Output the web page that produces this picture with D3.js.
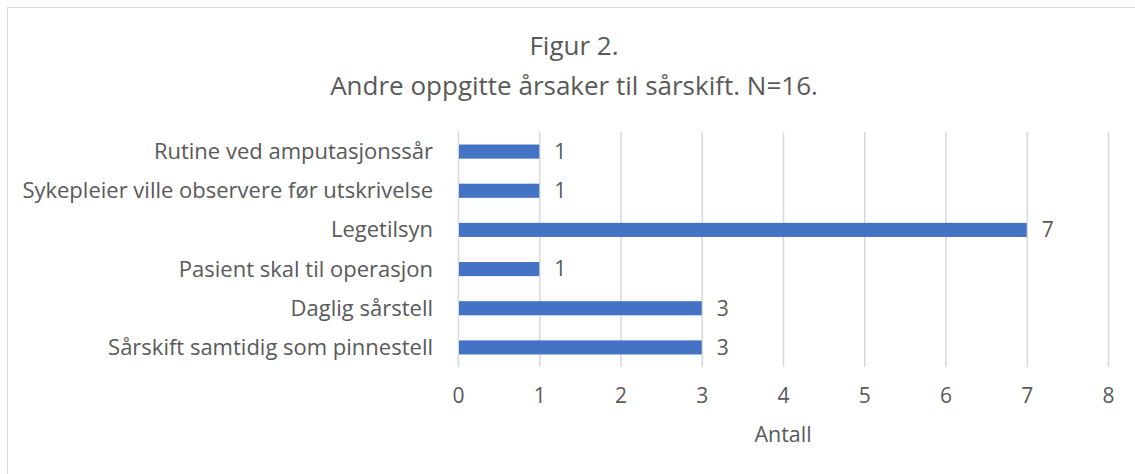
<!DOCTYPE html>
<html>
<head>
<meta charset="utf-8">
<script src="https://cdn.jsdelivr.net/npm/d3@7"></script>
<style>
  html, body { margin: 0; padding: 0; background: #fff; }
  svg { display: block; }
  text { font-family: "Open Sans", Lato, sans-serif; fill: #595959; }
</style>
</head>
<body>
<svg id="chart" width="1135" height="474"></svg>
<script>
const categories = [
  "Rutine ved amputasjonssår",
  "Sykepleier ville observere før utskrivelse",
  "Legetilsyn",
  "Pasient skal til operasjon",
  "Daglig sårstell",
  "Sårskift samtidig som pinnestell"
];
const values = [1, 1, 7, 1, 3, 3];
const xTicks = [0, 1, 2, 3, 4, 5, 6, 7, 8];
const titleLines = ["Figur 2.", "Andre oppgitte årsaker til sårskift. N=16."];
const xAxisTitle = "Antall";

const FONT = "'Open Sans', Lato, sans-serif";
const svg = d3.select("#chart");
const W = 1135, H = 474;
const margin = { left: 458, right: 27, top: 132, bottom: 107 };

svg.append("rect").attr("x", 0).attr("y", 0).attr("width", W).attr("height", H).attr("fill", "#fff");
svg.append("rect")
  .attr("x", 7.5).attr("y", 7.5).attr("width", W + 10).attr("height", H + 10)
  .attr("fill", "none").attr("stroke", "#d9d9d9").attr("stroke-width", 1);

const x = d3.scaleLinear().domain([0, 8]).range([margin.left, W - margin.right]);
const y = d3.scaleBand().domain(categories).range([margin.top, H - margin.bottom]).paddingInner(0.64).paddingOuter(0.32);

svg.append("g").selectAll("line").data(xTicks).join("line")
  .attr("x1", d => x(d) + 0.5).attr("x2", d => x(d) + 0.5)
  .attr("y1", margin.top).attr("y2", H - margin.bottom)
  .attr("stroke", "#d9d9d9").attr("stroke-width", 1.5);

const xAxis = d3.axisBottom(x).tickValues(xTicks).tickSize(0).tickPadding(0).tickFormat(d3.format("d"));
const gx = svg.append("g").attr("transform", `translate(0,${H - margin.bottom + 21})`).call(xAxis);
gx.select(".domain").remove();
gx.selectAll("text").attr("font-size", 21).attr("fill", "#595959")
  .style("font-family", FONT).attr("dy", "0.71em");

const yAxis = d3.axisLeft(y).tickSize(0).tickPadding(25);
const gy = svg.append("g").attr("transform", `translate(${margin.left},0)`).call(yAxis);
gy.select(".domain").remove();
gy.selectAll("text").attr("font-size", 22).attr("fill", "#595959")
  .style("font-family", FONT).attr("dy", "0.34em");

svg.append("g").selectAll("rect").data(categories).join("rect")
  .attr("x", x(0) + 1)
  .attr("y", d => y(d))
  .attr("width", (d, i) => x(values[i]) - x(0) - 1)
  .attr("height", y.bandwidth())
  .attr("fill", "#4472C4");

svg.append("g").selectAll("text").data(categories).join("text")
  .attr("x", (d, i) => x(values[i]) + 15)
  .attr("y", d => y(d) + y.bandwidth() / 2)
  .attr("dy", "0.35em")
  .attr("font-size", 21)
  .text((d, i) => values[i]);

svg.append("g").selectAll("text").data(titleLines).join("text")
  .attr("x", 574)
  .attr("y", (d, i) => 55 + i * 40)
  .attr("text-anchor", "middle")
  .attr("font-size", 26)
  .text(d => d);

svg.append("text")
  .attr("x", x(4))
  .attr("y", 442)
  .attr("text-anchor", "middle")
  .attr("font-size", 21.5)
  .text(xAxisTitle);
</script>
</body>
</html>
